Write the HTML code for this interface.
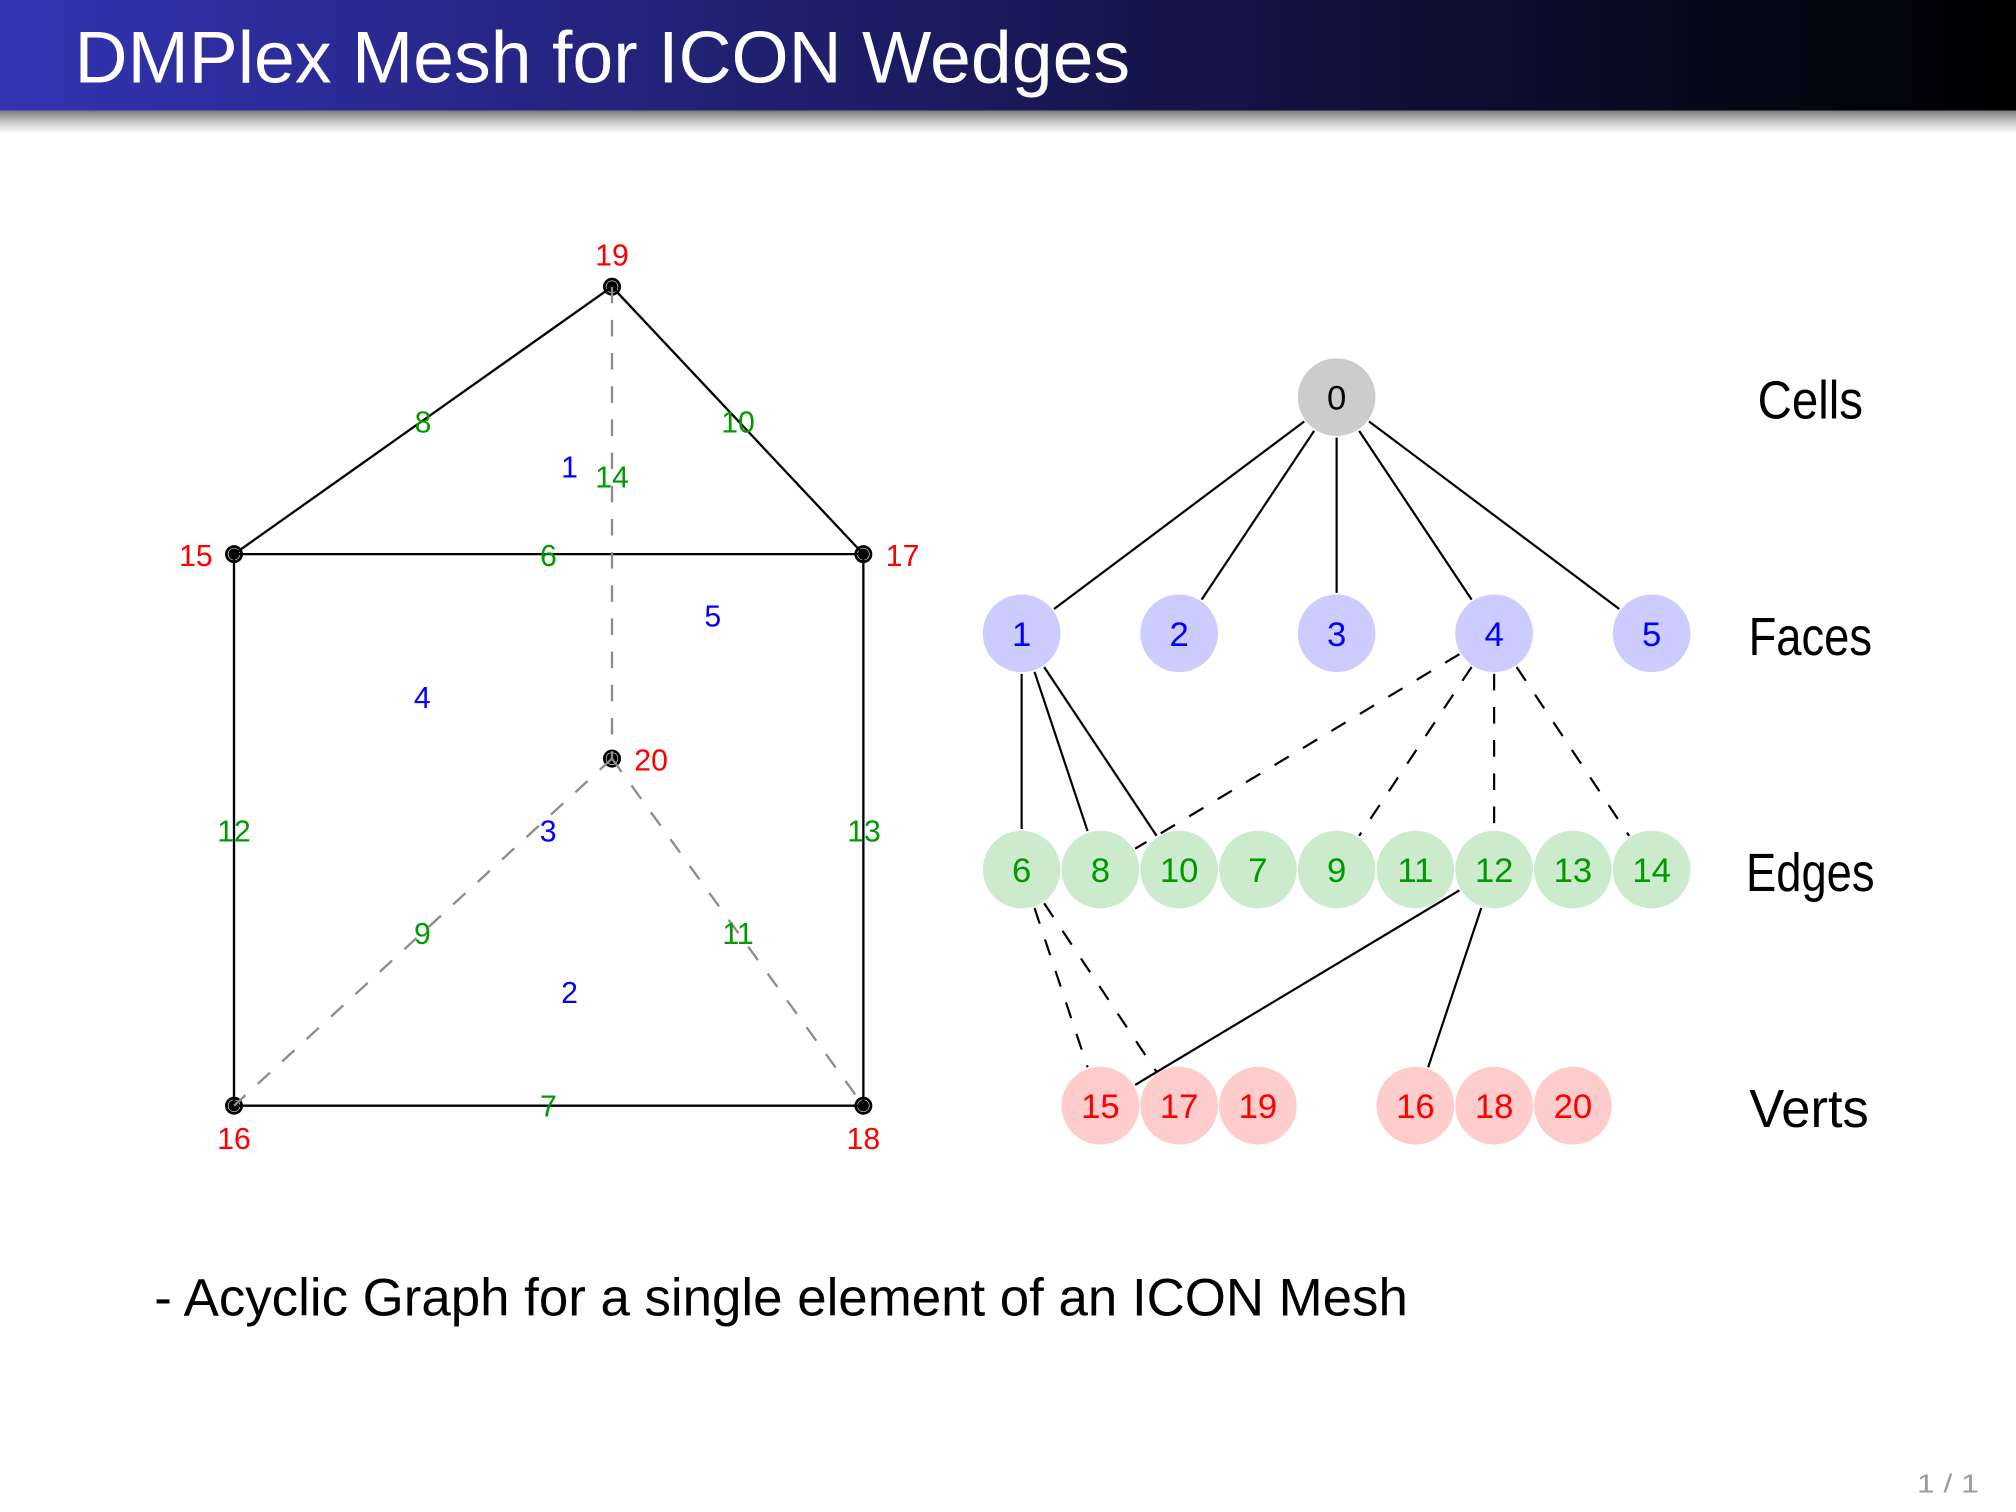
<!DOCTYPE html>
<html><head><meta charset="utf-8"><style>
html,body{margin:0;padding:0;background:#fff;overflow:hidden}
svg{display:block}
text{font-family:"Liberation Sans",sans-serif}
</style></head><body>
<svg xmlns="http://www.w3.org/2000/svg" width="2016" height="1512" viewBox="0 0 1568 1176">
<defs>
<linearGradient id="bar" x1="0" y1="0" x2="1" y2="0">
<stop offset="0" stop-color="#3333b3"/><stop offset="1" stop-color="#000"/>
</linearGradient>
<linearGradient id="sh" x1="0" y1="0" x2="0" y2="1">
<stop offset="0" stop-color="#7a7a7a"/><stop offset="0.5" stop-color="#c8c8c8"/><stop offset="1" stop-color="#fff"/>
</linearGradient>
</defs>
<rect x="0" y="0" width="1568" height="1176" fill="#fff"/>
<rect x="0" y="86" width="1568" height="18" fill="url(#sh)"/>
<rect x="0" y="0" width="1568" height="86" fill="url(#bar)"/>
<text x="58" y="64" font-size="57" fill="#fff" textLength="821" lengthAdjust="spacingAndGlyphs">DMPlex Mesh for ICON Wedges</text>

<!-- Left mesh diagram -->
<g>
<g fill="#000">
<circle cx="476" cy="223" r="7"/><circle cx="182" cy="431" r="7"/><circle cx="671.5" cy="431" r="7"/>
<circle cx="476" cy="590" r="7"/><circle cx="182" cy="860" r="7"/><circle cx="671.5" cy="860" r="7"/>
</g>
<g fill="none" stroke="#fff" stroke-width="0.45">
<circle cx="476" cy="223" r="4.6"/><circle cx="182" cy="431" r="4.6"/><circle cx="671.5" cy="431" r="4.6"/>
<circle cx="476" cy="590" r="4.6"/><circle cx="182" cy="860" r="4.6"/><circle cx="671.5" cy="860" r="4.6"/>
</g>
<g stroke="#000" stroke-width="1.8" fill="none" stroke-linecap="round">
<line x1="476" y1="223" x2="182" y2="431"/>
<line x1="476" y1="223" x2="671.5" y2="431"/>
<line x1="182" y1="431" x2="671.5" y2="431"/>
<line x1="182" y1="431" x2="182" y2="860"/>
<line x1="671.5" y1="431" x2="671.5" y2="860"/>
<line x1="182" y1="860" x2="671.5" y2="860"/>
</g>
<g stroke="#8c8c8c" stroke-width="1.8" fill="none" stroke-dasharray="12.9 12.9">
<line x1="476" y1="223" x2="476" y2="590"/>
<line x1="476" y1="590" x2="182" y2="860"/>
<line x1="476" y1="590" x2="671.5" y2="860"/>
</g>
<g font-size="23.5" text-anchor="middle">
<g fill="#ff0000">
<text x="476" y="206.5">19</text>
<text x="152.4" y="440.4">15</text>
<text x="702" y="440.4">17</text>
<text x="506.4" y="599.4">20</text>
<text x="182" y="893.5">16</text>
<text x="671.5" y="893.5">18</text>
</g>
<g fill="#009900">
<text x="329" y="336.5">8</text>
<text x="574" y="336.5">10</text>
<text x="476" y="379.2">14</text>
<text x="426.5" y="440.4">6</text>
<text x="182" y="654.4">12</text>
<text x="672" y="654.4">13</text>
<text x="328.5" y="734.2">9</text>
<text x="574" y="734.2">11</text>
<text x="426.5" y="868.4">7</text>
</g>
<g fill="#0000ff">
<text x="443" y="371.4">1</text>
<text x="554.4" y="487.4">5</text>
<text x="328.4" y="550.8">4</text>
<text x="426.3" y="654.4">3</text>
<text x="443" y="780">2</text>
</g>
</g>
</g>

<!-- Right DAG -->
<g>
<circle cx="1039.6" cy="308.9" r="30.2" fill="#cccccc"/>
<g fill="#ccccff">
<circle cx="794.6" cy="492.6" r="30.2"/><circle cx="917.1" cy="492.6" r="30.2"/><circle cx="1039.6" cy="492.6" r="30.2"/>
<circle cx="1162.1" cy="492.6" r="30.2"/><circle cx="1284.6" cy="492.6" r="30.2"/>
</g>
<g fill="#ccebcc">
<circle cx="794.6" cy="676.3" r="30.2"/><circle cx="855.85" cy="676.3" r="30.2"/><circle cx="917.1" cy="676.3" r="30.2"/>
<circle cx="978.35" cy="676.3" r="30.2"/><circle cx="1039.6" cy="676.3" r="30.2"/><circle cx="1100.85" cy="676.3" r="30.2"/>
<circle cx="1162.1" cy="676.3" r="30.2"/><circle cx="1223.35" cy="676.3" r="30.2"/><circle cx="1284.6" cy="676.3" r="30.2"/>
</g>
<g fill="#ffcccc">
<circle cx="855.85" cy="860" r="30.2"/><circle cx="917.1" cy="860" r="30.2"/><circle cx="978.35" cy="860" r="30.2"/>
<circle cx="1100.85" cy="860" r="30.2"/><circle cx="1162.1" cy="860" r="30.2"/><circle cx="1223.35" cy="860" r="30.2"/>
</g>
<g stroke="#000" stroke-width="1.7" fill="none">
<line x1="1014.4" y1="327.8" x2="819.8" y2="473.7"/>
<line x1="1022.1" y1="335.1" x2="934.6" y2="466.4"/>
<line x1="1039.6" y1="340.4" x2="1039.6" y2="461.1"/>
<line x1="1057.1" y1="335.1" x2="1144.6" y2="466.4"/>
<line x1="1064.8" y1="327.8" x2="1259.4" y2="473.7"/>
<line x1="794.6" y1="524.1" x2="794.6" y2="644.8"/>
<line x1="804.6" y1="522.5" x2="845.9" y2="646.4"/>
<line x1="812.1" y1="518.8" x2="899.6" y2="650.1"/>
<line x1="1135.1" y1="692.5" x2="882.9" y2="843.8"/>
<line x1="1152.1" y1="706.2" x2="1110.8" y2="830.1"/>
</g>
<g stroke="#000" stroke-width="1.7" fill="none" stroke-dasharray="12.9 12.9">
<line x1="1135.1" y1="508.8" x2="882.9" y2="660.1"/>
<line x1="1144.6" y1="518.8" x2="1057.1" y2="650.1"/>
<line x1="1162.1" y1="524.1" x2="1162.1" y2="644.8"/>
<line x1="1179.6" y1="518.8" x2="1267.1" y2="650.1"/>
<line x1="804.6" y1="706.2" x2="845.9" y2="830.1"/>
<line x1="812.1" y1="702.5" x2="899.6" y2="833.8"/>
</g>
<g font-size="27" text-anchor="middle">
<text x="1039.6" y="318.6" fill="#000">0</text>
<g fill="#0000ff">
<text x="794.6" y="502.3">1</text><text x="917.1" y="502.3">2</text><text x="1039.6" y="502.3">3</text>
<text x="1162.1" y="502.3">4</text><text x="1284.6" y="502.3">5</text>
</g>
<g fill="#009900">
<text x="794.6" y="686">6</text><text x="855.85" y="686">8</text><text x="917.1" y="686">10</text>
<text x="978.35" y="686">7</text><text x="1039.6" y="686">9</text><text x="1100.85" y="686">11</text>
<text x="1162.1" y="686">12</text><text x="1223.35" y="686">13</text><text x="1284.6" y="686">14</text>
</g>
<g fill="#ff0000">
<text x="855.85" y="869.7">15</text><text x="917.1" y="869.7">17</text><text x="978.35" y="869.7">19</text>
<text x="1100.85" y="869.7">16</text><text x="1162.1" y="869.7">18</text><text x="1223.35" y="869.7">20</text>
</g>
</g>
<g font-size="42" text-anchor="middle" fill="#000">
<text x="1408" y="325.6" textLength="82" lengthAdjust="spacingAndGlyphs">Cells</text>
<text x="1408" y="509.3" textLength="96" lengthAdjust="spacingAndGlyphs">Faces</text>
<text x="1408" y="693" textLength="100" lengthAdjust="spacingAndGlyphs">Edges</text>
<text x="1407" y="876.7" textLength="93" lengthAdjust="spacingAndGlyphs">Verts</text>
</g>
</g>

<text x="120" y="1023" font-size="41" fill="#000" textLength="975" lengthAdjust="spacingAndGlyphs">- Acyclic Graph for a single element of an ICON Mesh</text>
<text x="1491" y="1161" font-size="20" fill="#9a9a9a" textLength="48" lengthAdjust="spacingAndGlyphs">1 / 1</text>
</svg>
</body></html>
